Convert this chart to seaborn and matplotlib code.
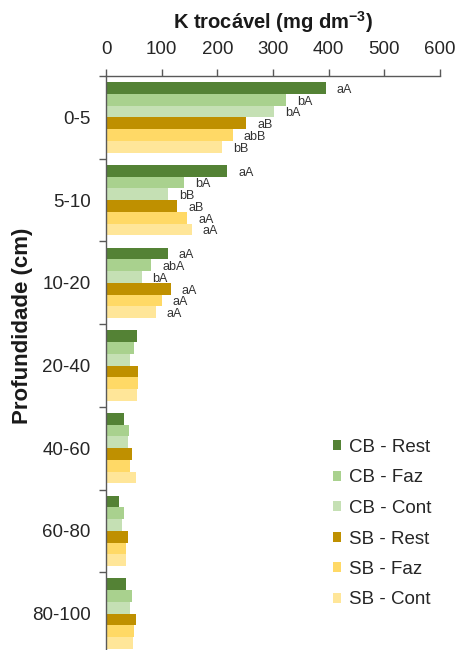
import matplotlib
matplotlib.use("Agg")
import matplotlib.pyplot as plt
import seaborn as sns
import pandas as pd
import numpy as np

# Exchangeable potassium by soil depth and management
depths = ["0-5", "5-10", "10-20", "20-40", "40-60", "60-80", "80-100"]
treatments = ["CB - Rest", "CB - Faz", "CB - Cont", "SB - Rest", "SB - Faz", "SB - Cont"]

cb_rest = [395, 218, 111, 56, 33, 24, 36]
cb_faz = [324, 141, 81, 51, 41, 33, 47]
cb_cont = [302, 111, 64, 44, 40, 29, 44]
sb_rest = [252, 128, 116, 58, 46, 39, 53]
sb_faz = [228, 146, 100, 58, 43, 36, 51]
sb_cont = [208, 154, 89, 56, 53, 36, 49]

# Significance letters (first three layers)
letters_cb_rest = ["aA", "aA", "aA"]
letters_cb_faz = ["bA", "bA", "abA"]
letters_cb_cont = ["bA", "bB", "bA"]
letters_sb_rest = ["aB", "aB", "aA"]
letters_sb_faz = ["abB", "aA", "aA"]
letters_sb_cont = ["bB", "aA", "aA"]

x_ticks = [0, 100, 200, 300, 400, 500, 600]

colors = ["#548235", "#A9D18E", "#C5E0B4", "#BF9000", "#FFD966", "#FFE699"]

series = [cb_rest, cb_faz, cb_cont, sb_rest, sb_faz, sb_cont]
letters = [letters_cb_rest, letters_cb_faz, letters_cb_cont,
           letters_sb_rest, letters_sb_faz, letters_sb_cont]

rows = []
for t, vals in zip(treatments, series):
    for d, v in zip(depths, vals):
        rows.append({"Profundidade": d, "Tratamento": t, "K": v})
df = pd.DataFrame(rows)

sns.set_theme(style="white")
plt.rcParams["font.family"] = ["Liberation Sans", "DejaVu Sans"]
plt.rcParams["mathtext.fontset"] = "custom"
plt.rcParams["mathtext.rm"] = "Liberation Sans"
plt.rcParams["mathtext.bf"] = "Liberation Sans:bold"

W, H = 457, 650
fig = plt.figure(figsize=(W / 100, H / 100), dpi=100)
ax_left, ax_right, ax_top, ax_bottom = 106, 440, 76, 655
ax = fig.add_axes([ax_left / W, 1 - ax_bottom / H,
                   (ax_right - ax_left) / W, (ax_bottom - ax_top) / H])

sns.barplot(data=df, y="Profundidade", x="K", hue="Tratamento",
            order=depths, hue_order=treatments, palette=colors,
            orient="h", width=0.85, gap=0, errorbar=None, ax=ax,
            saturation=1, linewidth=0)

ax.set_xlim(0, 600)
ax.set_ylim(len(depths) - 0.5, -0.5)

# Top x axis
ax.xaxis.set_ticks_position("top")
ax.xaxis.set_label_position("top")
ax.set_xticks(x_ticks)
ax.set_xticklabels([str(v) for v in x_ticks], fontsize=13.5, color="#262626")
ax.tick_params(axis="x", direction="out", length=5, width=1, color="#595959", pad=8)
ax.set_xlabel(r"K trocável (mg dm$^{\mathbf{-3}}$)", fontsize=14.5, fontweight="bold",
              color="#1a1a1a", labelpad=9)

# Left y axis: labels centred, ticks between categories
ax.set_yticks(range(len(depths)))
ax.set_yticklabels(depths, fontsize=13.5, color="#262626")
ax.tick_params(axis="y", which="major", length=0, pad=11)
ax.set_yticks(np.arange(-0.5, len(depths), 1.0), minor=True)
ax.tick_params(axis="y", which="minor", direction="out", length=5, width=1, color="#595959", left=True)
ax.set_ylabel("")

for s in ["right", "bottom"]:
    ax.spines[s].set_visible(False)
for s in ["left", "top"]:
    ax.spines[s].set_color("#595959")
    ax.spines[s].set_linewidth(1)

fig.text(23 / W, 1 - 326 / H, "Profundidade (cm)", rotation=90, fontsize=16,
         fontweight="bold", ha="center", va="center", color="#1a1a1a")

# Letters next to the bars of the upper layers
for cont, labs in zip(ax.containers, letters):
    for bar, lab in zip(list(cont)[:len(labs)], labs):
        x = bar.get_width()
        y = bar.get_y() + bar.get_height() / 2
        ax.annotate(lab, xy=(x, y), xytext=(11, -2), textcoords="offset pixels",
                    ha="left", va="center", fontsize=9, color="#333333")

# Legend
leg = ax.legend(loc="upper left", bbox_to_anchor=(333 / W, 1 - 439 / H),
                bbox_transform=fig.transFigure, frameon=False, fontsize=13.5,
                handlelength=0.45, handleheight=0.45, handletextpad=0.4,
                labelspacing=0.72, borderaxespad=0, borderpad=0)
for t in leg.get_texts():
    t.set_color("#262626")

fig.savefig("out.png", dpi=100)
